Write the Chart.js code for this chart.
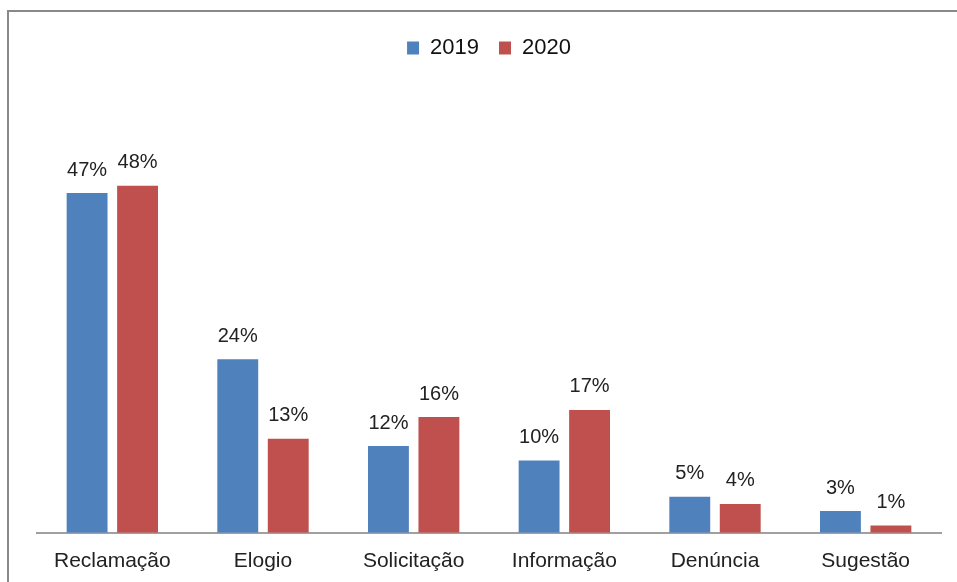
<!DOCTYPE html>
<html lang="pt">
<head>
  <meta charset="UTF-8" />
  <title>Manifestações 2019 x 2020</title>
  <script src="https://cdn.jsdelivr.net/npm/chart.js"></script>
  <style>
    html, body { margin: 0; padding: 0; background: #fff; }
    .wrap { position: relative; width: 957px; height: 582px; overflow: hidden; }
    .frame { position: absolute; left: 7px; top: 10px; width: 1000px; height: 700px; border-left: 2px solid #898989; border-top: 2px solid #898989; }
    canvas { position: absolute; left: 0; top: 0; }
  </style>
</head>
<body>
  <div class="wrap">
    <div class="frame"></div>
    <canvas id="chart" width="957" height="582"></canvas>
  </div>

  <script>
    const categories = ['Reclamação', 'Elogio', 'Solicitação', 'Informação', 'Denúncia', 'Sugestão'];
    const values2019 = [47, 24, 12, 10, 5, 3];
    const values2020 = [48, 13, 16, 17, 4, 1];

    // percent labels above each bar
    const barLabels = {
      id: 'barLabels',
      afterDatasetsDraw(chart) {
        const ctx = chart.ctx;
        ctx.save();
        ctx.font = '20px "Liberation Sans", Arial, sans-serif';
        ctx.fillStyle = '#222';
        ctx.textAlign = 'center';
        ctx.textBaseline = 'middle';
        chart.data.datasets.forEach((ds, i) => {
          chart.getDatasetMeta(i).data.forEach((bar, j) => {
            ctx.fillText(ds.data[j] + '%', bar.x, bar.y - 23);
          });
        });
        ctx.restore();
      }
    };

    // fixed legend height so the plot area starts where the original does
    const legendHeight = {
      id: 'legendHeight',
      beforeInit(chart) {
        const fit = chart.legend.fit;
        chart.legend.fit = function () {
          fit.bind(chart.legend)();
          this.height = 82;
        };
      }
    };

    new Chart(document.getElementById('chart'), {
      type: 'bar',
      data: {
        labels: categories,
        datasets: [
          { label: '2019', data: values2019, backgroundColor: '#4F81BD' },
          { label: '2020', data: values2020, backgroundColor: '#C0504D' }
        ]
      },
      options: {
        responsive: false,
        animation: false,
        layout: { padding: { left: 37, right: 16, top: 17, bottom: 0 } },
        datasets: { bar: { categoryPercentage: 0.67, barPercentage: 0.81 } },
        scales: {
          x: {
            grid: { display: false },
            border: { color: '#A0A0A0', width: 2 },
            ticks: { color: '#222', font: { family: '"Liberation Sans", Arial, sans-serif', size: 21 }, padding: 8 }
          },
          y: { display: false, min: 0, max: 60 }
        },
        plugins: {
          legend: {
            position: 'top',
            labels: {
              boxWidth: 12, boxHeight: 13, padding: 20, color: '#111',
              font: { family: '"Liberation Sans", Arial, sans-serif', size: 22 }
            }
          },
          tooltip: { enabled: false }
        }
      },
      plugins: [barLabels, legendHeight]
    });
  </script>
</body>
</html>
